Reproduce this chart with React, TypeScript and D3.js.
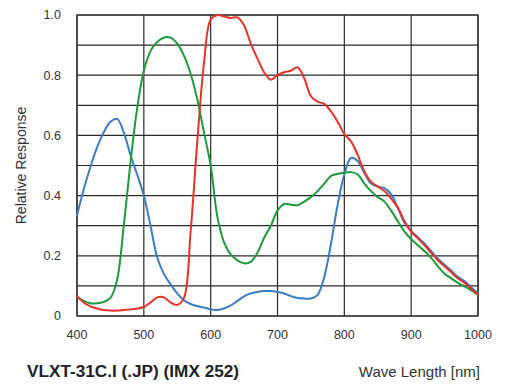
import React from "react";
import * as d3 from "d3";

const wavelengths = d3.range(400, 1001, 10);

const blueValues = [
  0.335, 0.42, 0.495, 0.56, 0.61, 0.645, 0.655, 0.61, 0.535, 0.47,
  0.4, 0.3, 0.195, 0.14, 0.105, 0.075, 0.052, 0.04, 0.033, 0.028,
  0.022, 0.02, 0.025, 0.035, 0.05, 0.065, 0.075, 0.08, 0.083, 0.083,
  0.08, 0.075, 0.066, 0.06, 0.058, 0.058, 0.07, 0.13, 0.24, 0.37,
  0.47, 0.525, 0.515, 0.475, 0.44, 0.43, 0.425, 0.405, 0.36, 0.31,
  0.283, 0.262, 0.24, 0.215, 0.19, 0.17, 0.15, 0.13, 0.115, 0.095, 0.075,
];

const greenValues = [
  0.064, 0.05, 0.042, 0.042, 0.047, 0.06, 0.12, 0.3, 0.51, 0.69,
  0.815, 0.88, 0.91, 0.925, 0.925, 0.905, 0.865, 0.805, 0.72, 0.61,
  0.5, 0.33, 0.245, 0.205, 0.185, 0.175, 0.18, 0.21, 0.26, 0.3,
  0.35, 0.372, 0.37, 0.368, 0.38, 0.395, 0.415, 0.44, 0.465, 0.472,
  0.476, 0.478, 0.47, 0.44, 0.415, 0.395, 0.38, 0.35, 0.315, 0.28,
  0.255, 0.235, 0.215, 0.193, 0.165, 0.14, 0.125, 0.11, 0.098, 0.085, 0.07,
];

const redValues = [
  0.066, 0.045, 0.032, 0.025, 0.02, 0.018, 0.018, 0.02, 0.022, 0.025,
  0.03, 0.045, 0.062, 0.062, 0.045, 0.037, 0.06, 0.28, 0.58, 0.84,
  0.985, 1.0, 0.995, 0.99, 0.992, 0.965, 0.905, 0.855, 0.81, 0.785,
  0.8, 0.81, 0.815, 0.826, 0.79, 0.73, 0.712, 0.705, 0.68, 0.645,
  0.605, 0.58, 0.535, 0.48, 0.445, 0.43, 0.415, 0.39, 0.36, 0.315,
  0.28, 0.258, 0.235, 0.21, 0.185, 0.165, 0.145, 0.125, 0.11, 0.09, 0.072,
];

const xTicks = [400, 500, 600, 700, 800, 900, 1000];
const yTickValues = [0, 0.2, 0.4, 0.6, 0.8, 1.0];
const yTickLabels = ["0", "0.2", "0.4", "0.6", "0.8", "1.0"];
const yGrid = d3.range(0, 1.0001, 0.1);

const seriesList = [
  { name: "Blue", values: blueValues, color: "#3b7cc4" },
  { name: "Green", values: greenValues, color: "#1d9a3c" },
  { name: "Red", values: redValues, color: "#e5332a" },
];

const titleText = "VLXT-31C.I (.JP) (IMX 252)";
const xLabel = "Wave Length [nm]";
const yLabel = "Relative Response";

export default function App() {
  const W = 506;
  const H = 388;
  const left = 77, right = 478, top = 15, bottom = 316;
  const x = d3.scaleLinear().domain([400, 1000]).range([left, right]);
  const y = d3.scaleLinear().domain([0, 1]).range([bottom, top]);
  const line = d3
    .line<number>()
    .x((_, i) => x(wavelengths[i]))
    .y((d) => y(d))
    .curve(d3.curveCatmullRom.alpha(0.5));
  const font = "'Liberation Sans', Arial, sans-serif";

  return (
    <svg
      width={W}
      height={H}
      style={{ position: "absolute", left: 0, top: 0, background: "#fff" }}
      fontFamily={font}
    >
      <g stroke="#2a2a2a" strokeWidth={1.2} fill="none">
        {yGrid.map((v, i) => (
          <line key={"h" + i} x1={left} x2={right} y1={y(v)} y2={y(v)} />
        ))}
        {xTicks.map((t) => (
          <line key={"v" + t} x1={x(t)} x2={x(t)} y1={top} y2={bottom} />
        ))}
        <rect x={left} y={top} width={right - left} height={bottom - top} />
      </g>
      <g fill="none" strokeWidth={2} strokeLinejoin="round" strokeLinecap="round">
        {seriesList.map((s) => (
          <path key={s.name} d={line(s.values) || ""} stroke={s.color} />
        ))}
      </g>
      <g fontSize={12.5} fill="#333" textAnchor="end">
        {yTickValues.map((v, i) => (
          <text key={v} x={61} y={y(v)} dy="0.35em">
            {yTickLabels[i]}
          </text>
        ))}
      </g>
      <g fontSize={12.5} fill="#333" textAnchor="middle">
        {xTicks.map((t) => (
          <text key={t} x={x(t)} y={339}>
            {t}
          </text>
        ))}
      </g>
      <text
        transform={`translate(26,${(top + bottom) / 2}) rotate(-90)`}
        textAnchor="middle"
        fontSize={14}
        fill="#333"
      >
        {yLabel}
      </text>
      <text x={27} y={377} fontSize={17.2} fontWeight="bold" fill="#222">
        {titleText}
      </text>
      <text x={480} y={377} fontSize={15} textAnchor="end" fill="#333">
        {xLabel}
      </text>
    </svg>
  );
}
